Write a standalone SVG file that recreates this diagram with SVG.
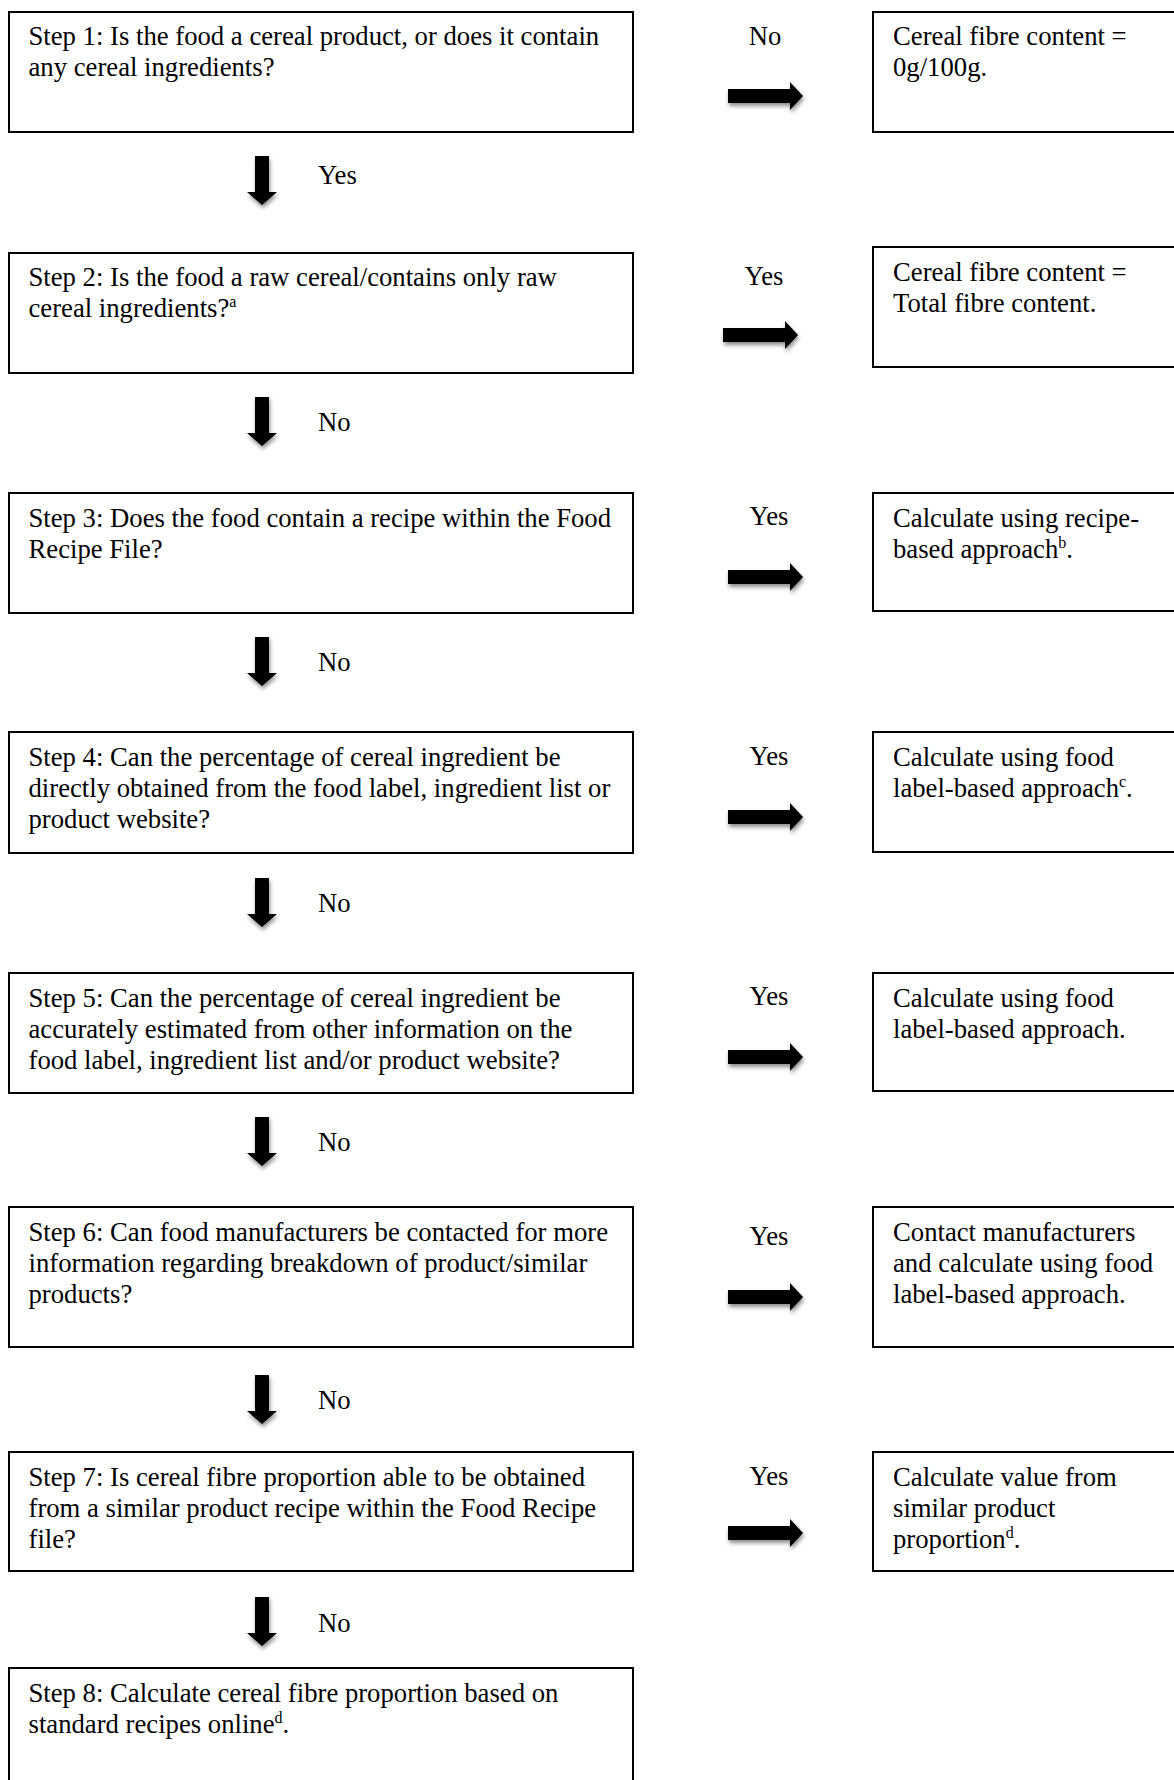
<svg xmlns="http://www.w3.org/2000/svg" width="1174" height="1780" viewBox="0 0 1174 1780">
<style>
  text { font-family: "Liberation Serif", "Times New Roman", serif; font-size: 26.7px; fill: #000; }
  .box { fill: #fff; stroke: #000; stroke-width: 2; }
  .sup { font-size: 16px; }
  .lbl { text-anchor: middle; }
  .arr { fill: #000; filter: url(#sh); }
</style>
<defs>
  <filter id="sh" x="-30%" y="-30%" width="160%" height="160%">
    <feDropShadow dx="1" dy="3" stdDeviation="2" flood-color="#000" flood-opacity="0.45"/>
  </filter>
  <path id="rarr" d="M0,-7 H62 V-14 L75,0 L62,14 V7 H0 Z"/>
  <path id="darr" d="M-7,0 V36 H-15 L0,49 L15,36 H7 V0 Z"/>
</defs>
<rect width="1174" height="1780" fill="#fff"/>

<g id="connectors">
  <use href="#darr" class="arr" x="262" y="156"/>
  <use href="#darr" class="arr" x="262" y="397"/>
  <use href="#darr" class="arr" x="262" y="637"/>
  <use href="#darr" class="arr" x="262" y="878"/>
  <use href="#darr" class="arr" x="262" y="1117"/>
  <use href="#darr" class="arr" x="262" y="1375"/>
  <use href="#darr" class="arr" x="262" y="1597"/>
  <use href="#rarr" class="arr" x="728" y="96"/>
  <use href="#rarr" class="arr" x="723" y="335"/>
  <use href="#rarr" class="arr" x="728" y="577"/>
  <use href="#rarr" class="arr" x="728" y="817"/>
  <use href="#rarr" class="arr" x="728" y="1057"/>
  <use href="#rarr" class="arr" x="728" y="1297"/>
  <use href="#rarr" class="arr" x="728" y="1533"/>
  <text x="318" y="184">Yes</text>
  <text x="318" y="431">No</text>
  <text x="318" y="671">No</text>
  <text x="318" y="912">No</text>
  <text x="318" y="1151">No</text>
  <text x="318" y="1409">No</text>
  <text x="318" y="1632">No</text>
  <text class="lbl" x="765" y="45">No</text>
  <text class="lbl" x="764" y="285">Yes</text>
  <text class="lbl" x="769" y="525">Yes</text>
  <text class="lbl" x="769" y="765">Yes</text>
  <text class="lbl" x="769" y="1005">Yes</text>
  <text class="lbl" x="769" y="1245">Yes</text>
  <text class="lbl" x="769" y="1485">Yes</text>
</g>

<g id="step1">
  <rect class="box" x="9" y="12" width="624" height="120"/>
  <text x="28.5" y="45">Step 1: Is the food a cereal product, or does it contain</text>
  <text x="28.5" y="76">any cereal ingredients?</text>
</g>
<g id="step2">
  <rect class="box" x="9" y="253" width="624" height="120"/>
  <text x="28.5" y="286">Step 2: Is the food a raw cereal/contains only raw</text>
  <text x="28.5" y="317">cereal ingredients?<tspan class="sup" dy="-10">a</tspan></text>
</g>
<g id="step3">
  <rect class="box" x="9" y="493" width="624" height="120"/>
  <text x="28.5" y="527">Step 3: Does the food contain a recipe within the Food</text>
  <text x="28.5" y="558">Recipe File?</text>
</g>
<g id="step4">
  <rect class="box" x="9" y="732" width="624" height="121"/>
  <text x="28.5" y="766">Step 4: Can the percentage of cereal ingredient be</text>
  <text x="28.5" y="797">directly obtained from the food label, ingredient list or</text>
  <text x="28.5" y="828">product website?</text>
</g>
<g id="step5">
  <rect class="box" x="9" y="973" width="624" height="120"/>
  <text x="28.5" y="1007">Step 5: Can the percentage of cereal ingredient be</text>
  <text x="28.5" y="1038">accurately estimated from other information on the</text>
  <text x="28.5" y="1069">food label, ingredient list and/or product website?</text>
</g>
<g id="step6">
  <rect class="box" x="9" y="1207" width="624" height="140"/>
  <text x="28.5" y="1241">Step 6: Can food manufacturers be contacted for more</text>
  <text x="28.5" y="1272">information regarding breakdown of product/similar</text>
  <text x="28.5" y="1303">products?</text>
</g>
<g id="step7">
  <rect class="box" x="9" y="1452" width="624" height="119"/>
  <text x="28.5" y="1486">Step 7: Is cereal fibre proportion able to be obtained</text>
  <text x="28.5" y="1517">from a similar product recipe within the Food Recipe</text>
  <text x="28.5" y="1548">file?</text>
</g>
<g id="step8">
  <rect class="box" x="9" y="1668" width="624" height="130"/>
  <text x="28.5" y="1702">Step 8: Calculate cereal fibre proportion based on</text>
  <text x="28.5" y="1733">standard recipes online<tspan class="sup" dy="-10">d</tspan><tspan dy="10">.</tspan></text>
</g>

<g id="result1">
  <rect class="box" x="873" y="12" width="320" height="120"/>
  <text x="893" y="45">Cereal fibre content =</text>
  <text x="893" y="76">0g/100g.</text>
</g>
<g id="result2">
  <rect class="box" x="873" y="247" width="320" height="120"/>
  <text x="893" y="281">Cereal fibre content =</text>
  <text x="893" y="312">Total fibre content.</text>
</g>
<g id="result3">
  <rect class="box" x="873" y="493" width="320" height="118"/>
  <text x="893" y="527">Calculate using recipe-</text>
  <text x="893" y="558">based approach<tspan class="sup" dy="-10">b</tspan><tspan dy="10">.</tspan></text>
</g>
<g id="result4">
  <rect class="box" x="873" y="732" width="320" height="120"/>
  <text x="893" y="766">Calculate using food</text>
  <text x="893" y="797">label-based approach<tspan class="sup" dy="-10">c</tspan><tspan dy="10">.</tspan></text>
</g>
<g id="result5">
  <rect class="box" x="873" y="973" width="320" height="118"/>
  <text x="893" y="1007">Calculate using food</text>
  <text x="893" y="1038">label-based approach.</text>
</g>
<g id="result6">
  <rect class="box" x="873" y="1207" width="320" height="140"/>
  <text x="893" y="1241">Contact manufacturers</text>
  <text x="893" y="1272">and calculate using food</text>
  <text x="893" y="1303">label-based approach.</text>
</g>
<g id="result7">
  <rect class="box" x="873" y="1452" width="320" height="119"/>
  <text x="893" y="1486">Calculate value from</text>
  <text x="893" y="1517">similar product</text>
  <text x="893" y="1548">proportion<tspan class="sup" dy="-10">d</tspan><tspan dy="10">.</tspan></text>
</g>
</svg>
